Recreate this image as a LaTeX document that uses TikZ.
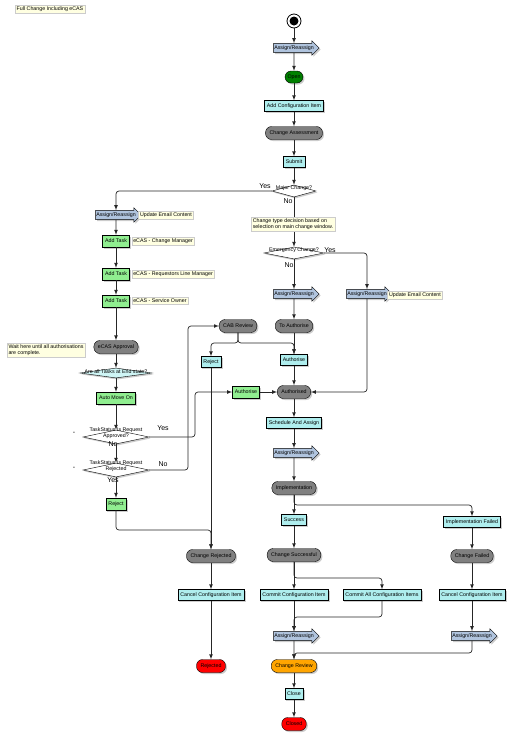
\documentclass[tikz,border=0pt]{standalone}
\usepackage{fontspec}
\setmainfont{Liberation Sans}
\usepackage{tikz}
\usetikzlibrary{positioning}
\usetikzlibrary{shapes.geometric}
\usetikzlibrary{shapes.arrows}
\usetikzlibrary{shadows}

\definecolor{actcyan}{RGB}{175,238,238}
\definecolor{taskgreen}{RGB}{144,238,144}
\definecolor{stategray}{RGB}{128,128,128}
\definecolor{opengreen}{RGB}{0,128,0}
\definecolor{endred}{RGB}{255,0,0}
\definecolor{revorange}{RGB}{255,165,0}
\definecolor{sigblue}{RGB}{176,196,222}
\definecolor{noteyellow}{RGB}{255,255,225}

\begin{document}
\begin{tikzpicture}
    [
    x=1pt, y=-1pt,
    font=\fontsize{5.3}{6}\selectfont,
    dshadow/.style={drop shadow={shadow xshift=1.5pt,shadow yshift=-1.5pt,fill=black!40}},
    act/.style={rectangle,draw,fill=actcyan,inner xsep=2.5pt,inner ysep=1pt,minimum height=11pt,dshadow},
    task/.style={rectangle,draw,fill=taskgreen,inner xsep=2.5pt,inner ysep=1pt,minimum height=12pt,dshadow},
    stbox/.style={rectangle,rounded corners=6pt,draw,fill=stategray,inner xsep=4pt,inner ysep=1pt,minimum height=13pt,dshadow},
    sig/.style={single arrow,draw,fill=sigblue,inner xsep=0.5pt,inner ysep=2pt,single arrow head extend=2.5pt,dshadow},
    dec/.style={diamond,draw,fill=white,inner sep=0pt,dshadow},
    note/.style={rectangle,draw=black!20,fill=noteyellow,inner sep=1.5pt,align=left},
    lbl/.style={inner sep=0.5pt,font=\fontsize{7}{8}\selectfont},
    flow/.style={-latex,line width=0.7pt,draw=black!85,rounded corners=3pt},
    ]
    \useasboundingbox (0,0) rectangle (516,740);

    \node (title) at (50,9) [note] {Full Change Including eCAS};
    \node (start) at (294,21) [circle,draw,thick,fill=white,minimum size=14pt,inner sep=0pt] {};
    \fill (start.center) circle (4.5pt);
    \node (ar1) at (294,48) [sig] {Assign/Reassign};
    \node (open) at (294,77) [stbox,fill=opengreen,inner xsep=2.5pt,minimum height=12pt] {Open};
    \node (addci) at (294,106) [act] {Add Configuration Item};
    \node (assess) at (294,133) [stbox] {Change Assessment};
    \node (submit) at (294,162) [act] {Submit};
    \node (major) at (294,191) [dec,minimum width=44pt,minimum height=12pt,
        label={[yshift=2.5pt]center:Major Change?}] {};
    \node (emerg) at (294,253) [dec,minimum width=60pt,minimum height=12pt,
        label={[yshift=2.5pt]center:Emergency Change?}] {};
    \node (ar2) at (294,294) [sig] {Assign/Reassign};
    \node (ar3r) at (367,294) [sig] {Assign/Reassign};
    \node (toauth) at (294,326) [stbox] {To Authorise};
    \node (cab) at (238,326) [stbox] {CAB Review};
    \node (rejc) at (211,362) [act] {Reject};
    \node (authc) at (294,360) [act] {Authorise};
    \node (authg) at (246,392) [task] {Authorise};
    \node (authd) at (294,392) [stbox] {Authorised};
    \node (sched) at (294,423) [act] {Schedule And Assign};
    \node (ar4) at (294,453) [sig] {Assign/Reassign};
    \node (impl) at (294,488) [stbox] {Implementation};
    \node (succ) at (294,520) [act] {Success};
    \node (implf) at (472,522) [act] {Implementation Failed};
    \node (csucc) at (294,555) [stbox] {Change Successful};
    \node (cfail) at (472,556) [stbox] {Change Failed};
    \node (commit) at (294,595) [act] {Commit Configuration Item};
    \node (commitall) at (382,595) [act] {Commit All Configuration Items};
    \node (cancelr) at (472,595) [act] {Cancel Configuration Item};
    \node (ar5) at (294,636) [sig] {Assign/Reassign};
    \node (ar6) at (472,636) [sig] {Assign/Reassign};
    \node (review) at (294,666) [stbox,fill=revorange] {Change Review};
    \node (close) at (294,694) [act] {Close};
    \node (closed) at (294,724) [stbox,fill=endred] {Closed};

    \node (arl) at (116,215) [sig] {Assign/Reassign};
    \node (add1) at (116,241) [task] {Add Task};
    \node (mgr) [note,right=2pt of add1] {eCAS - Change Manager};
    \node (add2) at (116,274) [task] {Add Task};
    \node (linemgr) [note,right=2pt of add2] {eCAS - Requestors Line Manager};
    \node (add3) at (116,301) [task] {Add Task};
    \node (owner) [note,right=2pt of add3] {eCAS - Service Owner};
    \node (waitnote) at (46,350) [note] {Wait here until all authorisations\\are complete.};
    \node (ecas) at (116,347) [stbox] {eCAS Approval};
    \node (alltasks) at (116,373) [dec,fill=actcyan!60,minimum width=72pt,minimum height=10pt,
        label={[yshift=1.5pt]center:Are all Tasks at End state?}] {};
    \node (automove) at (116,398) [task] {Auto Move On};
    \node (tsapp) at (116,437) [dec,minimum width=66pt,minimum height=14pt,
        label={[yshift=4pt,align=center]center:TaskStatus Is Request\\Approved?}] {};
    \node (tsrej) at (116,470) [dec,minimum width=66pt,minimum height=14pt,
        label={[yshift=4pt,align=center]center:TaskStatus Is Request\\Rejected}] {};
    \node (rejg) at (116,504) [task] {Reject};
    \node (crej) at (211,556) [stbox] {Change Rejected};
    \node (cancell) at (211,595) [act] {Cancel Configuration Item};
    \node (rejected) at (211,666) [stbox,fill=endred] {Rejected};

    \node (y1) at (265,186) [lbl] {Yes};
    \node (n1) at (288,201) [lbl] {No};
    \node (y2) at (330,250) [lbl] {Yes};
    \node (n2) at (289,265) [lbl] {No};
    \node (y3) at (163,428) [lbl] {Yes};
    \node (n3) at (113,444) [lbl] {No};
    \node (n4) at (163,464) [lbl] {No};
    \node (y4) at (113,480) [lbl] {Yes};
    \node (d1) at (74,433) [lbl] {-};
    \node (d2) at (74,468) [lbl] {-};

    \coordinate (jc) at (294,343);
    \coordinate (ji) at (294,505);
    \coordinate (js) at (294,578);
    \coordinate (jm) at (294,617);
    \coordinate (jr) at (294,653);
    \coordinate (ca) at (195,392);
    \coordinate (cr) at (188,326);
    \coordinate (cj) at (211,530);

    \draw [flow] (start) to (ar1);
    \draw [flow] (ar1) to (open);
    \draw [flow] (open) to (addci);
    \draw [flow] (addci) to (assess);
    \draw [flow] (assess) to (submit);
    \draw [flow] (submit) to (major);
    \draw [flow] (major) to (emerg);
    \draw [flow] (major.west) -| (arl);
    \draw [flow] (emerg) to (ar2);
    \draw [flow] (emerg.east) -| (ar3r);
    \draw [flow] (ar2) to (toauth);
    \draw [flow] (toauth) to (authc);
    \draw [flow] (cab.south) |- (jc) to (authc);
    \draw [flow] (cab.south) |- (rejc.north |- jc) -- (rejc);
    \draw [flow] (authc) to (authd);
    \draw [flow] (authg) to (authd);
    \draw [flow] (ar3r) |- (authd);
    \draw [flow] (authd) to (sched);
    \draw [flow] (sched) to (ar4);
    \draw [flow] (ar4) to (impl);
    \draw [flow] (impl) to (succ);
    \draw [flow] (impl) -- (ji) -| (implf);
    \draw [flow] (succ) to (csucc);
    \draw [flow] (csucc) to (commit);
    \draw [flow] (csucc) -- (js) -| (commitall);
    \draw [flow] (commit) to (ar5);
    \draw [flow] (commitall) |- (jm) to (ar5);
    \draw [flow] (implf) to (cfail);
    \draw [flow] (cfail) to (cancelr);
    \draw [flow] (cancelr) to (ar6);
    \draw [flow] (ar5) to (review);
    \draw [flow] (ar6) |- (jr) to (review);
    \draw [flow] (review) to (close);
    \draw [flow] (close) to (closed);

    \draw [flow] (arl) to (add1);
    \draw [flow] (add1) to (add2);
    \draw [flow] (add2) to (add3);
    \draw [flow] (add3) to (ecas);
    \draw [flow] (ecas) to (alltasks);
    \draw [flow] (alltasks) to (automove);
    \draw [flow] (automove) to (tsapp);
    \draw [flow] (tsapp) to (tsrej);
    \draw [flow] (tsrej) to (rejg);
    \draw [flow] (tsapp.east) -| (ca) to (authg);
    \draw [flow] (tsrej.east) -| (cr) to (cab);
    \draw [flow] (rejg) |- (cj) to (crej);
    \draw [flow] (rejc) to (crej);
    \draw [flow] (crej) to (cancell);
    \draw [flow] (cancell) to (rejected);

    \node (typenote) at (293,224) [note] {Change type decision based on\\selection on main change window.};
    \node (mail1) at (166,215) [note] {Update Email Content};
    \node (mail2) at (415,295) [note] {Update Email Content};
\end{tikzpicture}
\end{document}
